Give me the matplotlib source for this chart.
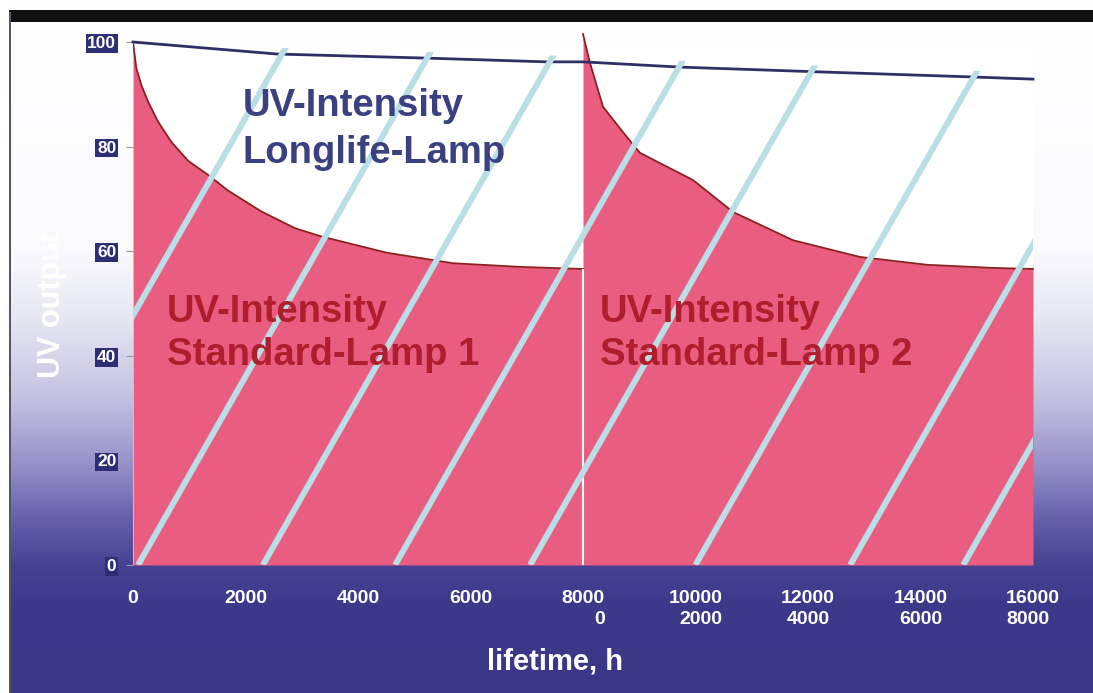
import numpy as np
import matplotlib.pyplot as plt
from matplotlib.patches import Rectangle

plt.rcParams['font.family'] = ['Liberation Sans', 'DejaVu Sans']

# UV output (%)
hours_std1 = [0, 59, 148, 267, 444, 681, 978, 1333, 1689, 2281, 2880, 3354, 4516, 5689, 6880, 8000]
uv_std1 = [100, 95, 91.8, 88.6, 84.8, 80.9, 77.3, 74.6, 71.6, 67.6, 64.4, 62.8, 59.7, 57.7, 57.0, 56.6]

hours_std2 = [8000, 8124, 8356, 8782, 9013, 9956, 10667, 11733, 12924, 14116, 15289, 16000]
uv_std2 = [101.5, 96, 87.6, 81.8, 78.8, 73.6, 67.5, 62.1, 58.9, 57.4, 56.8, 56.6]

hours_long = [0, 2560, 5280, 7360, 8000, 9724, 12160, 14969, 16000]
uv_long = [100, 97.7, 96.9, 96.2, 96.2, 95.2, 94.3, 93.3, 92.9]

x_ticks = [0, 2000, 4000, 6000, 8000, 10000, 12000, 14000, 16000]
x_tick_labels = ['0', '2000', '4000', '6000', '8000\n0', '10000\n2000',
                 '12000\n4000', '14000\n6000', '16000\n8000']
x_label_align = ['center'] * 4 + ['right', 'right', 'center', 'center', 'left']
y_ticks = [0, 20, 40, 60, 80, 100]

# decorative light stripes: where each one leaves the baseline (h)
stripe_starts = [-2530, 90, 2310, 4660, 7060, 10000, 12750, 14760]
stripe_run = 5300  # hours travelled while rising 100 %

PINK = '#e95d80'
CURVE_RED = '#8c2020'
NAVY = '#2f2f66'
STRIPE = '#b9dee6'
BLUE_TXT = '#3b4180'
RED_TXT = '#ae1e2c'

fig = plt.figure(figsize=(10.93, 6.93), dpi=100)

# background gradient, white at top to dark blue at bottom
bg = fig.add_axes([0, 0, 1, 1], zorder=-5)
stops_y = [0, 250, 320, 400, 470, 520, 565, 600, 693]
stops_c = np.array([[255, 255, 255], [250, 250, 253], [230, 230, 242],
                    [194, 192, 224], [145, 140, 198], [100, 95, 168],
                    [70, 66, 146], [61, 58, 140], [58, 55, 134]]) / 255.0
rows = np.arange(693)
grad = np.stack([np.interp(rows, stops_y, stops_c[:, k]) for k in range(3)], axis=1)
bg.imshow(grad[:, None, :], aspect='auto', extent=[0, 1, 0, 1])
bg.set_axis_off()

# black band at the top and thin frame edge on the left
fig.patches.append(Rectangle((9 / 1093, 1 - 22 / 693), 1, 12 / 693, transform=fig.transFigure,
                             facecolor='#101010', edgecolor='none', zorder=-4))
fig.patches.append(Rectangle((0, 0), 9 / 1093, 1, transform=fig.transFigure,
                             facecolor='white', edgecolor='none', zorder=-4))
fig.patches.append(Rectangle((9 / 1093, 0), 1.5 / 1093, 1 - 12 / 693, transform=fig.transFigure,
                             facecolor='#555566', edgecolor='none', zorder=-4))

ax = fig.add_axes([133 / 1093, 1 - 565 / 693, 900 / 1093, 523 / 693])
ax.set_facecolor('white')
ax.set_xlim(0, 16000)
ax.set_ylim(0, 100)
for s in ax.spines.values():
    s.set_visible(False)

ax.fill_between(hours_std1, 0, uv_std1, color=PINK, lw=0, zorder=1)
ax.fill_between(hours_std2, 0, uv_std2, color=PINK, lw=0, zorder=1, clip_on=False)
ax.plot(hours_std1, uv_std1, color=CURVE_RED, lw=1.3, zorder=2)
ax.plot(hours_std2, uv_std2, color=CURVE_RED, lw=1.3, zorder=2, clip_on=False)
ax.vlines(8000, 0, uv_std1[-1], color='white', lw=1.5, zorder=2)
ax.plot(hours_long, uv_long, color=NAVY, lw=2.0, zorder=2, clip_on=False)

# stripes only below the longlife curve
clip_poly = ax.fill_between(hours_long, 0, np.array(uv_long) + 1.2, color='none', lw=0)
clip_path = clip_poly.get_paths()[0]
for x0 in stripe_starts:
    ln, = ax.plot([x0, x0 + stripe_run * 1.05], [0, 105], color=STRIPE, lw=4.3,
                  solid_capstyle='butt', zorder=3)
    ln.set_clip_path(clip_path, ax.transData)

txt_kw = dict(fontsize=27.5, fontweight='bold', ha='left', va='baseline', zorder=4)
ax.text(1955, 85.8, 'UV-Intensity', color=BLUE_TXT, **txt_kw)
ax.text(1955, 76.9, 'Longlife-Lamp', color=BLUE_TXT, **txt_kw)
ax.text(604, 46.5, 'UV-Intensity', color=RED_TXT, **txt_kw)
ax.text(604, 38.2, 'Standard-Lamp 1', color=RED_TXT, **txt_kw)
ax.text(8300, 46.5, 'UV-Intensity', color=RED_TXT, **txt_kw)
ax.text(8300, 38.2, 'Standard-Lamp 2', color=RED_TXT, **txt_kw)

ax.set_xticks(x_ticks)
ax.set_xticklabels(x_tick_labels, fontsize=14, fontweight='bold', color='white',
                   va='top', linespacing=1.3)
for lab, al in zip(ax.get_xticklabels(), x_label_align):
    lab.set_multialignment(al)
ax.tick_params(axis='x', length=0, pad=18)

ax.set_yticks(y_ticks)
ax.set_yticklabels([str(v) for v in y_ticks], fontsize=12.5, fontweight='bold', color='white')
for lab in ax.get_yticklabels():
    lab.set_bbox(dict(facecolor='#2e2e76', edgecolor='none', pad=1.2))
ax.tick_params(axis='y', length=5, width=0.8, color='#9a9aae', pad=7)

fig.text(555 / 1093, 1 - 662 / 693, 'lifetime, h', fontsize=21, fontweight='bold',
         color='white', ha='center', va='center')
fig.text(52 / 1093, 1 - 378 / 693, 'UV output', rotation=90, fontsize=22,
         fontweight='bold', color='white', ha='center', va='bottom')

fig.savefig('out.png', dpi=100)
